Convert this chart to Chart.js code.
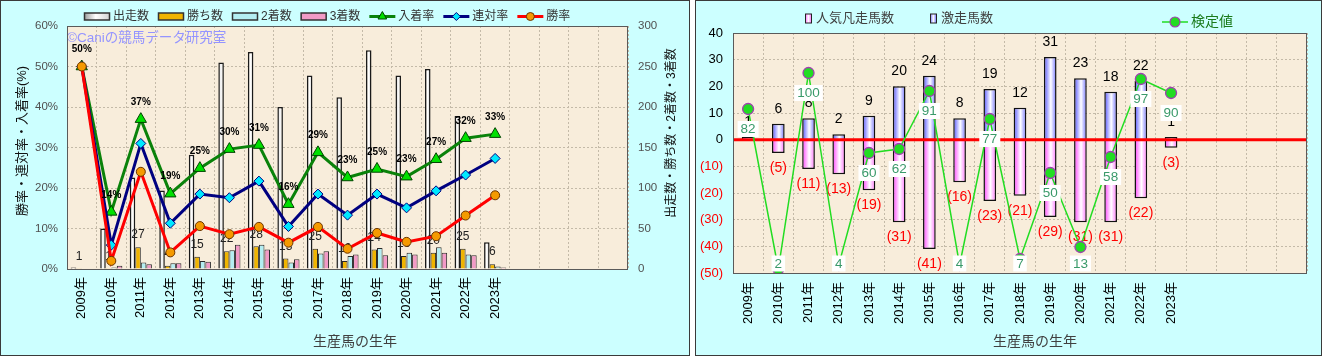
<!DOCTYPE html>
<html lang="ja"><head><meta charset="utf-8">
<script src="https://cdn.jsdelivr.net/npm/chart.js@4.4.1/dist/chart.umd.min.js"></script>
<style>
html,body{margin:0;padding:0;width:1322px;height:356px;overflow:hidden;background:#ffffff;}
.panel{position:absolute;top:0;height:356px;background:#ccffff;}
.frame{position:absolute;top:0;height:356px;border:1px solid #3a3a3a;box-sizing:border-box;pointer-events:none;}
canvas{position:absolute;left:0;top:0;}
</style></head><body>
<div class="panel" style="left:0;width:690px"><canvas id="c1" width="690" height="356"></canvas></div>
<div class="frame" style="left:0;width:690px"></div>
<div class="panel" style="left:695px;width:627px"><canvas id="c2" width="627" height="356"></canvas></div>
<div class="frame" style="left:695px;width:627px"></div>
<script>
// ===== data =====
const years = ['2009年','2010年','2011年','2012年','2013年','2014年','2015年','2016年','2017年','2018年','2019年','2020年','2021年','2022年','2023年'];
const emptySlots = ['', '', '', ''];

// left chart (counts on right axis, rates in % on left axis)
const starters = [2, 50, 113, 97, 141, 255, 268, 200, 239, 212, 270, 239, 247, 189, 33];
const wins     = [1, 1, 27, 4, 15, 22, 28, 13, 25, 10, 24, 16, 20, 25, 6];
const seconds  = [0, 2, 8, 7, 10, 23, 30, 8, 19, 16, 26, 20, 27, 18, 3];
const thirds   = [0, 4, 6, 7, 9, 30, 24, 12, 22, 18, 17, 18, 20, 17, 2];
const placeRate    = [50, 14.1, 37, 18.6, 24.9, 29.6, 30.6, 16, 28.8, 22.6, 24.7, 22.8, 27.1, 32.3, 33.3];
const quinellaRate = [50, 5.9, 31, 11.3, 18.5, 17.6, 21.7, 10.5, 18.5, 13.3, 18.5, 15.1, 19.3, 23.2, 27.3];
const winRate      = [50, 2, 24, 4.1, 10.6, 8.6, 10.4, 6.5, 10.4, 5.0, 8.9, 6.7, 8.1, 13.2, 18.2];

// right chart
const hotRunners = [1, 6, 8, 2, 9, 20, 24, 8, 19, 12, 31, 23, 18, 22, 1];
const favFlops   = [null, 5, 11, 13, 19, 31, 41, 16, 23, 21, 29, 31, 31, 22, 3];
const testValue  = [82, 2, 100, 4, 60, 62, 91, 4, 77, 7, 50, 13, 58, 97, 90];

// ===== styling helpers =====
const FONT = "'Liberation Sans', 'Noto Sans CJK JP', sans-serif";
Chart.defaults.font.family = FONT;
Chart.defaults.animation = false;
const PLOT_BG = '#f8eddb';
const GRID = '#c4baa8';
const labels = years.concat(emptySlots);

function hGrad(ctx, cx, w, stops){
  const g = ctx.createLinearGradient(cx - w/2, 0, cx + w/2, 0);
  stops.forEach(s => g.addColorStop(s[0], s[1]));
  return g;
}
function barFill(stops, fallback, slot, nSlots, groupFrac){
  return (c) => {
    const ch = c.chart;
    if (c.type !== 'data' || !ch.chartArea || !ch.scales || !ch.scales.x) return fallback;
    const xs = ch.scales.x;
    const cw = xs.getPixelForValue(1) - xs.getPixelForValue(0);
    const bw = cw * groupFrac / nSlots;
    const cx = xs.getPixelForValue(c.dataIndex) + (slot - (nSlots - 1) / 2) * bw;
    return hGrad(ch.ctx, cx, bw, stops);
  };
}
const WHITE_STOPS = [[0,'#9a9a9a'],[0.45,'#ffffff'],[1,'#d0d0d0']];
const BLUE_STOPS  = [[0,'#5050ff'],[0.55,'#ffffff'],[1,'#7070ff']];
const PINK_STOPS  = [[0,'#ff40ff'],[0.55,'#ffffff'],[1,'#ff70ff']];

function rotText(ctx, text, x, y, font, color){
  ctx.save(); ctx.translate(x, y); ctx.rotate(-Math.PI/2);
  ctx.font = font; ctx.fillStyle = color; ctx.textAlign = 'center'; ctx.textBaseline = 'middle';
  ctx.fillText(text, 0, 0); ctx.restore();
}
function fillPlot(ch){
  const a = ch.chartArea, ctx = ch.ctx;
  ctx.save(); ctx.fillStyle = PLOT_BG; ctx.fillRect(a.left, a.top, a.right - a.left, a.bottom - a.top); ctx.restore();
}
function framePlot(ch){
  const a = ch.chartArea, ctx = ch.ctx;
  ctx.save(); ctx.strokeStyle = '#5a5a5a'; ctx.lineWidth = 1;
  ctx.strokeRect(Math.round(a.left) + 0.5, Math.round(a.top) + 0.5, Math.round(a.right - a.left) - 1, Math.round(a.bottom - a.top));
  ctx.restore();
}

// ===== left chart =====
const leftDeco = {
  id: 'leftDeco',
  beforeDraw(ch){ fillPlot(ch); },
  beforeDatasetsDraw(ch){
    const ctx = ch.ctx, a = ch.chartArea;
    ctx.save(); ctx.font = '13.5px ' + FONT; ctx.fillStyle = '#9494ff'; ctx.textAlign = 'left'; ctx.textBaseline = 'middle';
    ctx.fillText('©Caniの競馬データ研究室', a.left, a.top + 12); ctx.restore();
  },
  beforeDatasetDraw(ch, args){
    if (args.index !== 4) return;
    const ctx = ch.ctx, meta = ch.getDatasetMeta(1);
    ctx.save(); ctx.font = '12px ' + FONT; ctx.fillStyle = '#222'; ctx.textAlign = 'center'; ctx.textBaseline = 'middle';
    meta.data.forEach((el, i) => { if (wins[i] == null) return; ctx.fillText(String(wins[i]), el.x, el.y - 12); });
    ctx.restore();
  },
  afterDatasetsDraw(ch){
    const ctx = ch.ctx, meta = ch.getDatasetMeta(4);
    ctx.save(); ctx.font = 'bold 10px ' + FONT; ctx.fillStyle = '#000'; ctx.textAlign = 'center'; ctx.textBaseline = 'middle';
    meta.data.forEach((el, i) => { if (placeRate[i] == null) return; ctx.fillText(Math.round(placeRate[i]) + '%', el.x, el.y - 17); });
    ctx.restore();
  },
  afterDraw(ch){
    framePlot(ch);
    const ctx = ch.ctx, H = Chart.helpers;
    // legend
    ctx.save();
    ctx.font = '12px ' + FONT; ctx.textBaseline = 'middle'; ctx.textAlign = 'left';
    let x = 84; const y = 16.5;
    ch.data.datasets.forEach((ds) => {
      if (ds.type === 'bar') {
        const f = ds.legendFill;
        ctx.fillStyle = f === 'white' ? hGrad(ctx, x + 13, 26, WHITE_STOPS) : f;
        ctx.fillRect(x, y - 3.5, 26, 7);
        ctx.strokeStyle = '#333'; ctx.lineWidth = 1.5; ctx.strokeRect(x + 0.5, y - 3.5, 25, 7);
      } else {
        ctx.strokeStyle = ds.borderColor; ctx.lineWidth = 3;
        ctx.beginPath(); ctx.moveTo(x, y); ctx.lineTo(x + 26, y); ctx.stroke();
        ctx.fillStyle = ds.pointBackgroundColor; ctx.strokeStyle = ds.pointBorderColor; ctx.lineWidth = 1;
        H.drawPoint(ctx, {pointStyle: ds.pointStyle, radius: ds.legendRadius, borderWidth: 1, rotation: 0}, x + 13, y);
      }
      ctx.fillStyle = '#333';
      ctx.fillText(ds.label, x + 29, y);
      x += 29 + ctx.measureText(ds.label).width + 9;
    });
    ctx.restore();
    // axis titles
    rotText(ctx, '勝率・連対率・入着率(%)', 22, 141, '13px ' + FONT, '#111');
    rotText(ctx, '出走数・勝ち数・2着数・3着数', 672, 133, '12px ' + FONT, '#111');
    ctx.save(); ctx.font = '14px ' + FONT; ctx.fillStyle = '#404040'; ctx.textAlign = 'center'; ctx.textBaseline = 'middle';
    ctx.fillText('生産馬の生年', 355, 342); ctx.restore();
  }
};

const barCommon = {type: 'bar', yAxisID: 'y1', order: 5, categoryPercentage: 0.75, barPercentage: 1.0, borderWidth: 1, borderColor: '#2a2a2a', borderSkipped: 'start'};
new Chart(document.getElementById('c1'), {
  data: {
    labels: labels,
    datasets: [
      Object.assign({}, barCommon, {label: '出走数', data: starters, backgroundColor: barFill(WHITE_STOPS, '#eeeeee', 0, 4, 0.75), legendFill: 'white', borderWidth: 1.5, borderColor: '#1a1a1a'}),
      Object.assign({}, barCommon, {label: '勝ち数', data: wins, backgroundColor: '#f0b400', legendFill: '#f0b400'}),
      Object.assign({}, barCommon, {label: '2着数', data: seconds, backgroundColor: '#b4eef2', legendFill: '#b4eef2'}),
      Object.assign({}, barCommon, {label: '3着数', data: thirds, backgroundColor: '#f29ac6', legendFill: '#f29ac6'}),
      {type: 'line', label: '入着率', data: placeRate, yAxisID: 'y', order: 2, borderColor: '#0a820a', borderWidth: 3, pointStyle: 'triangle', pointRadius: 6.5, pointBackgroundColor: '#00e000', pointBorderColor: '#004400', pointBorderWidth: 1, legendRadius: 5, tension: 0},
      {type: 'line', label: '連対率', data: quinellaRate, yAxisID: 'y', order: 1, borderColor: '#000080', borderWidth: 3, pointStyle: 'rectRot', pointRadius: 5, pointBackgroundColor: '#00e8ff', pointBorderColor: '#000080', pointBorderWidth: 1, legendRadius: 4, tension: 0},
      {type: 'line', label: '勝率', data: winRate, yAxisID: 'y', order: 0, borderColor: '#ff0000', borderWidth: 3, pointStyle: 'circle', pointRadius: 4.5, pointBackgroundColor: '#f59a00', pointBorderColor: '#6a3400', pointBorderWidth: 1, legendRadius: 4, tension: 0}
    ]
  },
  options: {
    responsive: false, animation: false,
    layout: {padding: {top: 26, left: 0, right: 0, bottom: 0}},
    plugins: {legend: {display: false}, tooltip: {enabled: false}},
    scales: {
      x: {
        offset: true,
        grid: {offset: true, color: GRID, lineWidth: 1, drawTicks: false},
        border: {display: false, dash: [2, 2]},
        ticks: {autoSkip: false, minRotation: 90, maxRotation: 90, padding: 8, color: '#000', font: {size: 13}},
        afterFit(s){ s.height = 87; }
      },
      y: {
        position: 'left', min: 0, max: 60,
        grid: {color: GRID, lineWidth: 1, drawTicks: false},
        border: {display: false, dash: [2, 2]},
        ticks: {stepSize: 10, padding: 9, color: '#505050', font: {size: 11.5}, callback: v => v + '%'},
        afterFit(s){ s.width = 67; }
      },
      y1: {
        position: 'right', min: 0, max: 300,
        grid: {drawOnChartArea: false, drawTicks: false},
        border: {display: false},
        ticks: {stepSize: 50, padding: 10, color: '#505050', font: {size: 11.5}},
        afterFit(s){ s.width = 62; }
      }
    }
  },
  plugins: [leftDeco]
});

// ===== right chart =====
const rightDeco = {
  id: 'rightDeco',
  beforeDraw(ch){ fillPlot(ch); },
  beforeDatasetDraw(ch, args){
    if (args.index !== 2) return;
    const ctx = ch.ctx, a = ch.chartArea, ys = ch.scales.y;
    const y0 = ys.getPixelForValue(0);
    ctx.save(); ctx.strokeStyle = '#ff0000'; ctx.lineWidth = 3;
    ctx.beginPath(); ctx.moveTo(a.left, y0); ctx.lineTo(a.right, y0); ctx.stroke(); ctx.restore();
    ctx.save(); ctx.font = '14px ' + FONT; ctx.textAlign = 'center'; ctx.textBaseline = 'middle';
    ctx.fillStyle = '#000';
    ch.getDatasetMeta(1).data.forEach((el, i) => { if (hotRunners[i] == null) return; ctx.fillText(String(hotRunners[i]), el.x, el.y - 15); });
    ctx.fillStyle = '#ff0000';
    ch.getDatasetMeta(0).data.forEach((el, i) => { if (favFlops[i] == null) return; ctx.fillText('(' + favFlops[i] + ')', el.x, el.y + 15); });
    ctx.restore();
  },
  afterDatasetsDraw(ch){
    const ctx = ch.ctx, a = ch.chartArea;
    ctx.save(); ctx.font = '13.5px ' + FONT; ctx.textAlign = 'center'; ctx.textBaseline = 'middle';
    ch.getDatasetMeta(2).data.forEach((el, i) => {
      if (testValue[i] == null) return;
      const t = String(testValue[i]);
      const w = ctx.measureText(t).width + 6;
      const y = Math.min(el.y + 20, a.bottom - 9.5);
      ctx.fillStyle = '#ffffff'; ctx.fillRect(el.x - w/2, y - 8, w, 16);
      ctx.fillStyle = '#3a9a6a'; ctx.fillText(t, el.x, y + 0.5);
    });
    ctx.restore();
  },
  afterDraw(ch){
    framePlot(ch);
    const ctx = ch.ctx, H = Chart.helpers;
    ctx.save(); ctx.font = '13px ' + FONT; ctx.textBaseline = 'middle'; ctx.textAlign = 'left';
    const items = [
      {ds: ch.data.datasets[0], x: 110, y: 18.5, stops: PINK_STOPS},
      {ds: ch.data.datasets[1], x: 235, y: 18.5, stops: BLUE_STOPS}
    ];
    items.forEach(it => {
      ctx.fillStyle = hGrad(ctx, it.x + 3, 7, it.stops);
      ctx.fillRect(it.x, it.y - 4.5, 7, 9);
      ctx.strokeStyle = '#222'; ctx.lineWidth = 1; ctx.strokeRect(it.x + 0.5, it.y - 4.5, 6, 9);
      ctx.fillStyle = '#404040'; ctx.fillText(it.ds.label, it.x + 11, it.y);
    });
    const ld = ch.data.datasets[2];
    const lx = 467, ly = 22;
    ctx.strokeStyle = ld.borderColor; ctx.lineWidth = 1.5;
    ctx.beginPath(); ctx.moveTo(lx, ly); ctx.lineTo(lx + 26, ly); ctx.stroke();
    ctx.fillStyle = ld.pointBackgroundColor; ctx.strokeStyle = ld.pointBorderColor; ctx.lineWidth = 1.2;
    H.drawPoint(ctx, {pointStyle: 'circle', radius: 5, borderWidth: 1.2, rotation: 0}, lx + 13, ly);
    ctx.font = '14px ' + FONT; ctx.fillStyle = '#1a7a1a'; ctx.fillText(ld.label, lx + 29, ly);
    ctx.restore();
    ctx.save(); ctx.font = '14px ' + FONT; ctx.fillStyle = '#404040'; ctx.textAlign = 'center'; ctx.textBaseline = 'middle';
    ctx.fillText('生産馬の生年', 340, 342); ctx.restore();
  }
};

new Chart(document.getElementById('c2'), {
  data: {
    labels: labels,
    datasets: [
      {type: 'bar', label: '人気凡走馬数', data: favFlops.map(v => v == null ? null : -v), stack: 's', order: 5,
       backgroundColor: barFill(PINK_STOPS, '#ffb0ff', 0, 1, 0.42), borderColor: '#111', borderWidth: 1.5, categoryPercentage: 1, barPercentage: 0.42},
      {type: 'bar', label: '激走馬数', data: hotRunners, stack: 's', order: 5,
       backgroundColor: barFill(BLUE_STOPS, '#b0b0ff', 0, 1, 0.42), borderColor: '#111', borderWidth: 1.5, categoryPercentage: 1, barPercentage: 0.42},
      {type: 'line', label: '検定値', data: testValue, yAxisID: 'y2', order: 1, borderColor: '#22dd22', borderWidth: 1.5,
       pointStyle: 'circle', pointRadius: 5.5, pointBackgroundColor: '#22dd22', pointBorderColor: '#a040b0', pointBorderWidth: 1.3, tension: 0}
    ]
  },
  options: {
    responsive: false, animation: false,
    layout: {padding: {top: 33, left: 0, right: 15, bottom: 0}},
    plugins: {legend: {display: false}, tooltip: {enabled: false}},
    scales: {
      x: {
        stacked: true, offset: true,
        grid: {offset: true, color: GRID, lineWidth: 1, drawTicks: false},
        border: {display: false, dash: [2, 2]},
        ticks: {autoSkip: false, minRotation: 90, maxRotation: 90, padding: 9, color: '#000', font: {size: 13}},
        afterFit(s){ s.height = 83; }
      },
      y: {
        stacked: true, min: -50, max: 40,
        grid: {color: GRID, lineWidth: 1, drawTicks: false},
        border: {display: false, dash: [2, 2]},
        ticks: {stepSize: 10, padding: 10, font: {size: 13},
          color: c => (c.tick && c.tick.value < 0) ? '#ff0000' : '#000000',
          callback: v => v < 0 ? '(' + (-v) + ')' : String(v)},
        afterFit(s){ s.width = 38; }
      },
      y2: {display: false, min: 0, max: 120}
    }
  },
  plugins: [rightDeco]
});
</script>
</body></html>
